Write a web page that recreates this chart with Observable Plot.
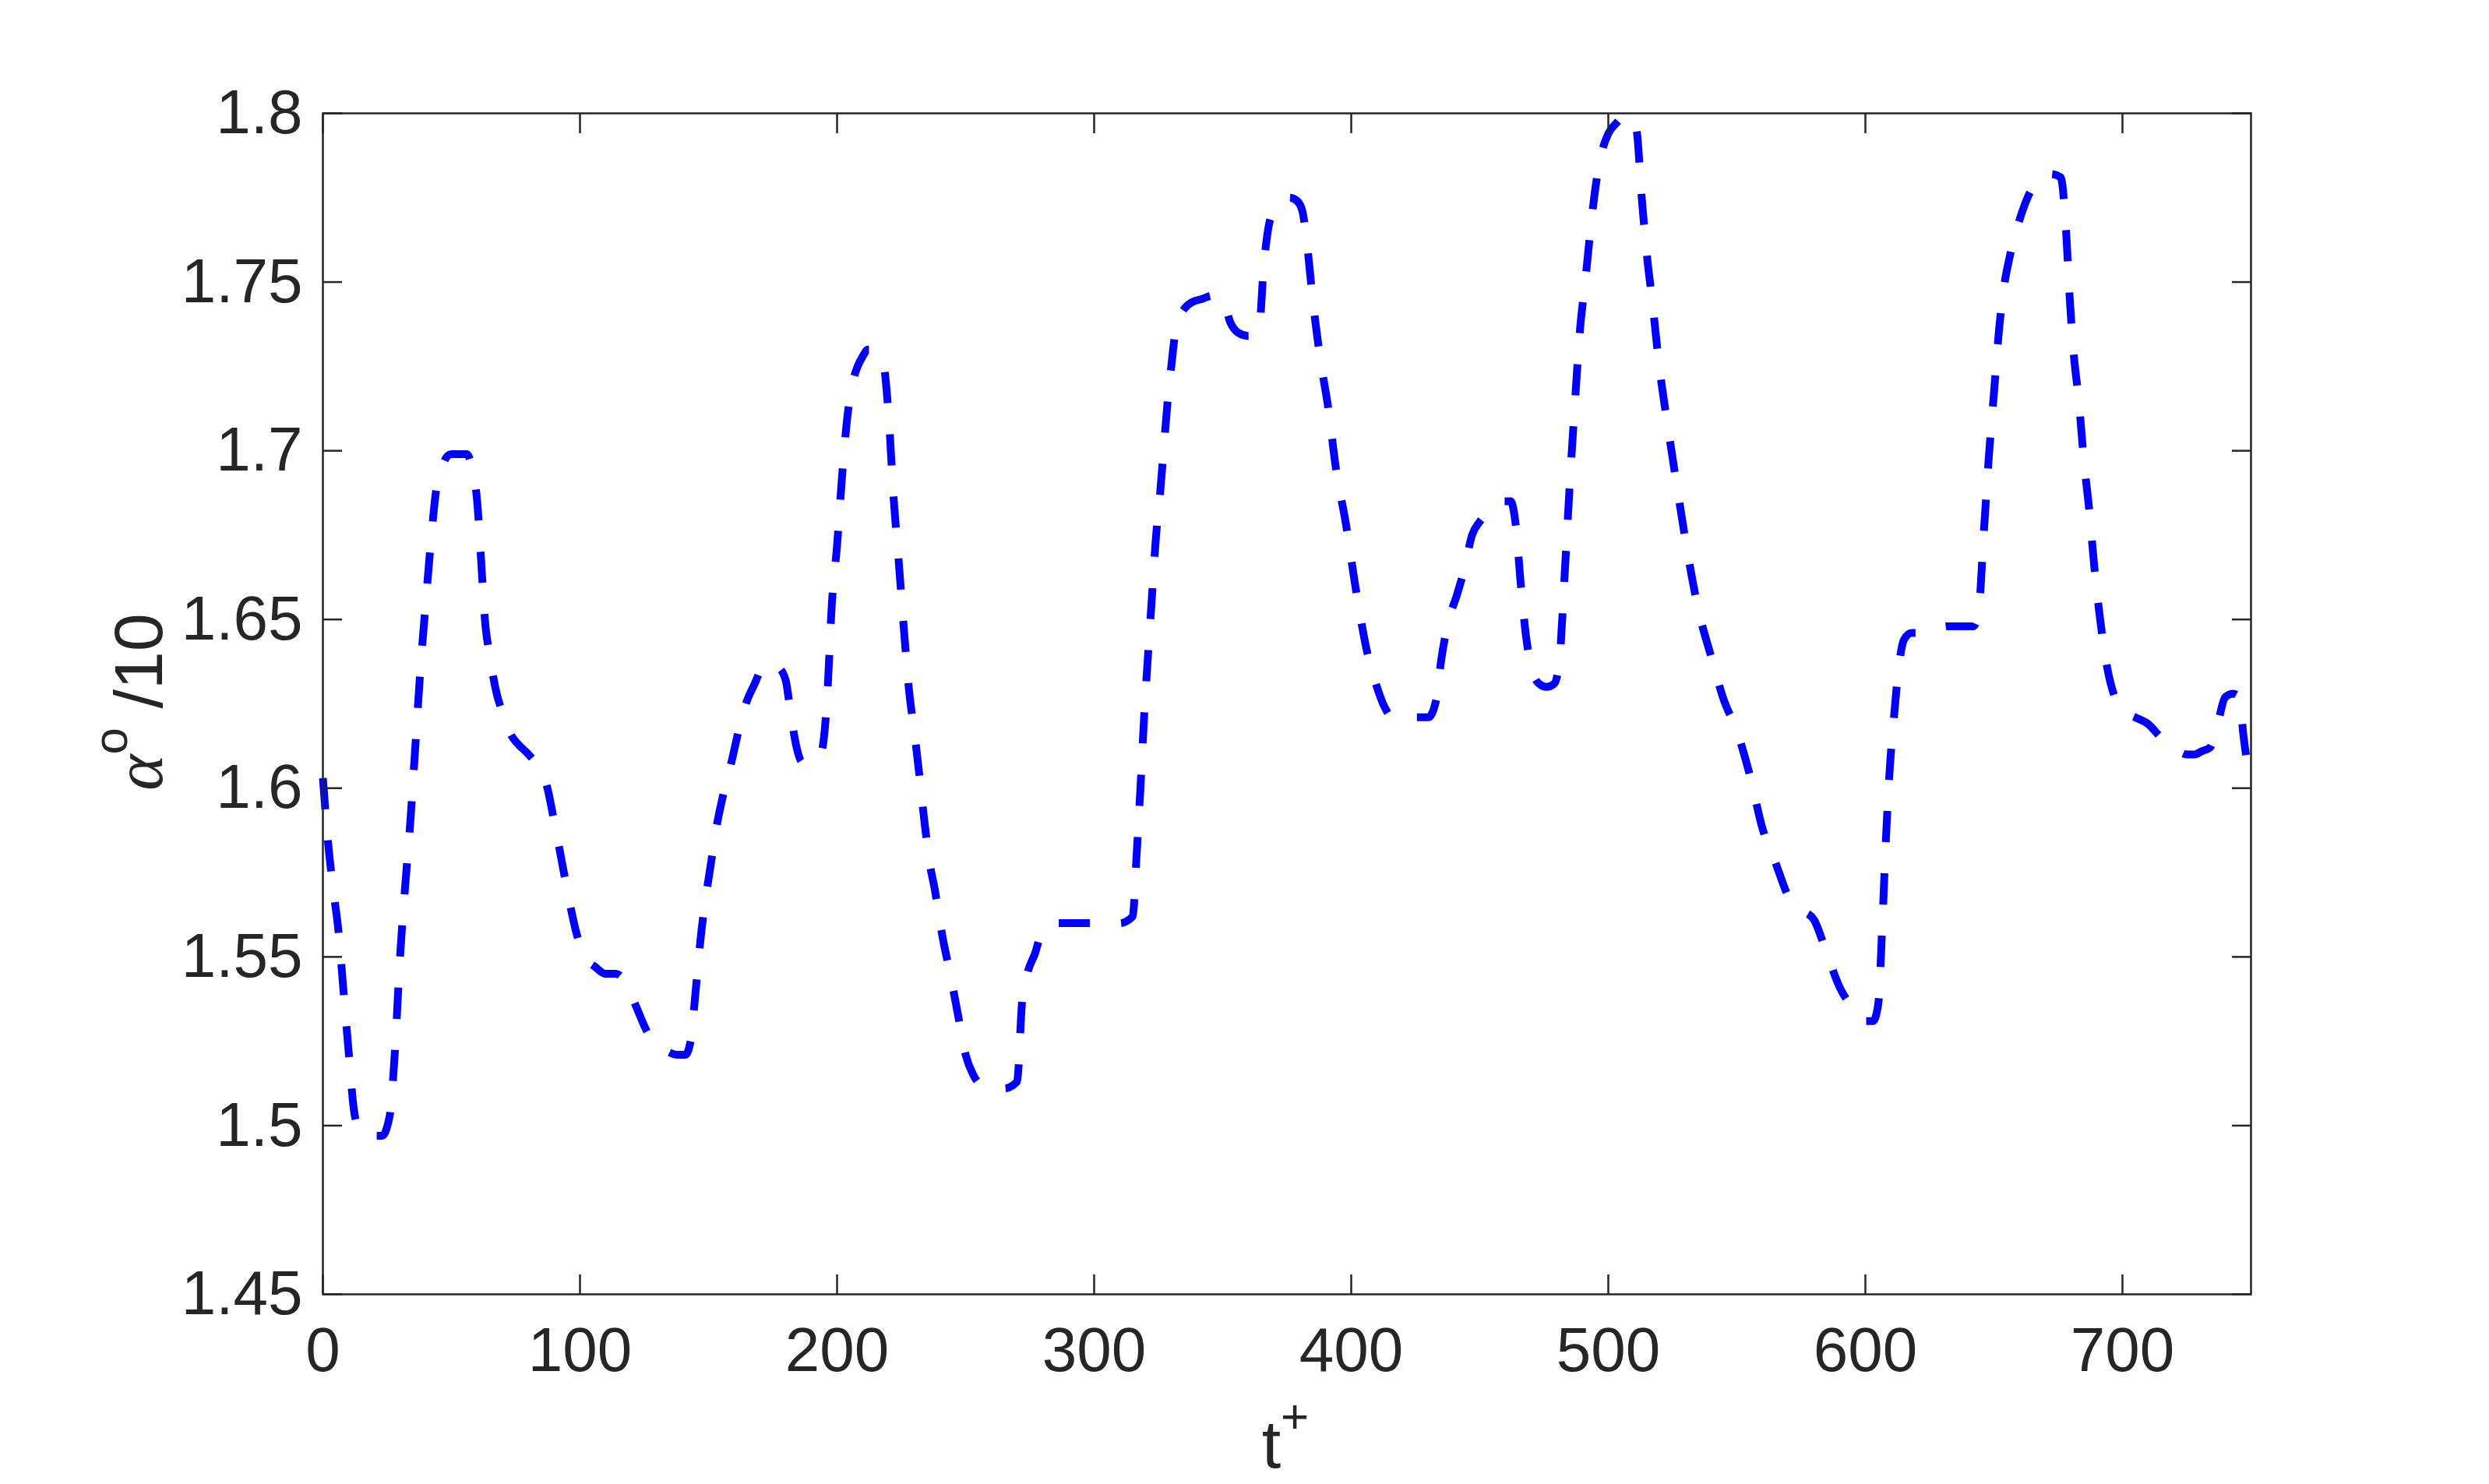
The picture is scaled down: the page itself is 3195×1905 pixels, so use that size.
<!DOCTYPE html>
<html>
<head>
<meta charset="utf-8">
<script src="https://cdn.jsdelivr.net/npm/d3@7"></script>
<script src="https://cdn.jsdelivr.net/npm/@observablehq/plot@0.6"></script>
<style>
  html, body { margin: 0; padding: 0; background: #fff; }
  #chart svg { display: block; }
</style>
</head>
<body>
<div id="chart"></div>
<script>
// t+ values
const tPlus = [0, 2, 4, 6, 8, 10, 12, 14, 17, 20, 23, 26, 28, 30, 32, 34, 36, 38, 40, 42, 44, 46, 48, 50, 53, 56, 58, 60, 61.5, 63, 65, 67, 70, 73, 76, 80, 84, 87, 90, 93, 96, 99, 102, 106, 110, 114, 118, 122, 126, 130, 134, 138, 141, 143, 145, 147, 149, 151, 153, 156, 159, 162, 165, 168, 171, 174, 177, 180, 182, 184, 186, 188, 191, 194, 196, 198, 200, 202, 204, 206, 208, 210, 212, 214, 216, 218, 220, 222, 224, 226, 228, 230, 232, 234, 236, 238, 241, 244, 247, 250, 253, 256, 260, 265, 270, 272, 274, 277, 280, 285, 290, 300, 310, 315, 316.5, 318, 319.5, 321, 322.5, 324, 325.5, 327, 328.5, 330, 332, 335, 338, 342, 346, 350, 353, 356, 360, 364, 366, 368, 370, 373, 376, 379, 381, 383, 385, 388, 391, 394, 398, 402, 406, 410, 413, 416, 420, 425, 430, 433, 435, 438, 441, 444, 447, 450, 454, 458, 462, 464, 466, 468, 470, 473, 476, 479, 481, 483, 485, 487, 489, 491, 493, 495, 497, 500, 503, 506, 509, 511, 513, 515, 517, 520, 523, 527, 531, 535, 540, 545, 550, 555, 560, 565, 570, 575, 580, 585, 590, 595, 600, 603, 605, 606.5, 608, 609.5, 611, 613, 615, 618, 622, 627, 632, 637, 642, 644, 646, 648, 650, 652, 654, 656, 659, 662, 665, 668, 672, 676, 678, 679.5, 681, 683, 685, 687, 689, 691, 694, 697, 700, 705, 710, 715, 720, 725, 728, 731, 734, 737, 740, 743, 745.5, 747, 748.5, 750];
// alpha / 10 values
const alphaOver10 = [1.603, 1.584, 1.570, 1.558, 1.540, 1.522, 1.505, 1.499, 1.497, 1.497, 1.497, 1.503, 1.522, 1.550, 1.571, 1.590, 1.613, 1.636, 1.655, 1.673, 1.688, 1.694, 1.698, 1.699, 1.699, 1.699, 1.695, 1.685, 1.668, 1.650, 1.639, 1.630, 1.622, 1.616, 1.613, 1.610, 1.606, 1.601, 1.590, 1.578, 1.566, 1.556, 1.550, 1.547, 1.545, 1.545, 1.542, 1.535, 1.528, 1.524, 1.522, 1.521, 1.521, 1.525, 1.540, 1.556, 1.568, 1.578, 1.588, 1.599, 1.608, 1.618, 1.626, 1.631, 1.636, 1.637, 1.636, 1.632, 1.622, 1.613, 1.608, 1.607, 1.608, 1.611, 1.625, 1.655, 1.672, 1.693, 1.710, 1.720, 1.725, 1.728, 1.730, 1.730, 1.729, 1.726, 1.711, 1.686, 1.667, 1.647, 1.629, 1.617, 1.604, 1.590, 1.578, 1.570, 1.556, 1.545, 1.533, 1.521, 1.515, 1.512, 1.511, 1.511, 1.513, 1.537, 1.545, 1.551, 1.558, 1.560, 1.560, 1.560, 1.560, 1.562, 1.580, 1.600, 1.622, 1.640, 1.657, 1.674, 1.686, 1.700, 1.714, 1.725, 1.737, 1.742, 1.744, 1.745, 1.746, 1.745, 1.738, 1.735, 1.734, 1.735, 1.755, 1.767, 1.771, 1.774, 1.775, 1.774, 1.771, 1.760, 1.745, 1.727, 1.713, 1.695, 1.678, 1.658, 1.641, 1.630, 1.624, 1.621, 1.621, 1.621, 1.621, 1.626, 1.638, 1.650, 1.657, 1.665, 1.675, 1.679, 1.682, 1.685, 1.685, 1.678, 1.660, 1.645, 1.636, 1.631, 1.630, 1.631, 1.638, 1.663, 1.690, 1.714, 1.736, 1.750, 1.765, 1.778, 1.787, 1.794, 1.797, 1.799, 1.799, 1.795, 1.775, 1.758, 1.745, 1.724, 1.708, 1.688, 1.669, 1.653, 1.639, 1.626, 1.617, 1.604, 1.588, 1.578, 1.568, 1.564, 1.561, 1.551, 1.541, 1.535, 1.531, 1.531, 1.536, 1.558, 1.585, 1.606, 1.620, 1.636, 1.644, 1.646, 1.646, 1.647, 1.648, 1.648, 1.648, 1.652, 1.675, 1.698, 1.717, 1.736, 1.749, 1.757, 1.766, 1.773, 1.778, 1.781, 1.782, 1.781, 1.766, 1.745, 1.729, 1.715, 1.697, 1.683, 1.666, 1.652, 1.636, 1.627, 1.623, 1.621, 1.619, 1.615, 1.612, 1.610, 1.610, 1.611, 1.612, 1.619, 1.627, 1.628, 1.627, 1.616, 1.608, 1.605];

const xTicks = [0, 100, 200, 300, 400, 500, 600, 700];
const xTickLabels = ["0", "100", "200", "300", "400", "500", "600", "700"];
const yTicks = [1.45, 1.5, 1.55, 1.6, 1.65, 1.7, 1.75, 1.8];
const yTickLabels = ["1.45", "1.5", "1.55", "1.6", "1.65", "1.7", "1.75", "1.8"];

const data = tPlus.map((t, i) => ({t, a: alphaOver10[i]}));

const W = 3195, H = 1905;
const axisColor = "#262626";
const font = "'Liberation Sans', Arial, Helvetica, sans-serif";

const chart = Plot.plot({
  width: W,
  height: H,
  marginLeft: 414,
  marginRight: 306,
  marginTop: 145,
  marginBottom: 244,
  style: {fontFamily: font, fontSize: "80px", color: axisColor, background: "#fff"},
  x: {domain: [0, 750], label: null},
  y: {domain: [1.45, 1.8], label: null},
  marks: [
    Plot.line(data, {x: "t", y: "a", stroke: "#0000ff", strokeWidth: 10,
      strokeDasharray: "40,40", curve: "monotone-x", strokeLinecap: "butt"}),
    Plot.frame({stroke: axisColor, strokeWidth: 2.5}),
    // labels
    Plot.axisX({ticks: xTicks, tickFormat: (d) => xTickLabels[xTicks.indexOf(d)],
      tickSize: 0, tickPadding: 42, label: null, fontSize: 80, fill: axisColor}),
    Plot.axisY({ticks: yTicks, tickFormat: (d) => yTickLabels[yTicks.indexOf(d)],
      tickSize: 0, tickPadding: 26, label: null, fontSize: 80, fill: axisColor}),
    // inward ticks on all four sides
    Plot.axisX({anchor: "bottom", ticks: xTicks, tickSize: -25, text: null, label: null, stroke: axisColor, strokeWidth: 2.5}),
    Plot.axisX({anchor: "top", ticks: xTicks, tickSize: -25, text: null, label: null, stroke: axisColor, strokeWidth: 2.5}),
    Plot.axisY({anchor: "left", ticks: yTicks, tickSize: -25, text: null, label: null, stroke: axisColor, strokeWidth: 2.5}),
    Plot.axisY({anchor: "right", ticks: yTicks, tickSize: -25, text: null, label: null, stroke: axisColor, strokeWidth: 2.5})
  ]
});

document.getElementById("chart").appendChild(chart);

// Axis titles with superscripts
const svg = d3.select(chart);
const yl = svg.append("text")
  .attr("transform", "translate(208,901) rotate(-90)")
  .attr("text-anchor", "middle")
  .attr("fill", axisColor)
  .attr("font-family", font)
  .attr("font-size", 88);
yl.append("tspan").attr("font-family", "'Liberation Serif', 'DejaVu Serif', serif").attr("font-style", "italic").text("α");
yl.append("tspan").attr("font-size", 62).attr("dy", -45).text("o");
yl.append("tspan").attr("dy", 45).text(" /10");

const xl = svg.append("text")
  .attr("x", 1650).attr("y", 1884)
  .attr("text-anchor", "middle")
  .attr("fill", axisColor)
  .attr("font-family", font)
  .attr("font-size", 88);
xl.append("tspan").text("t");
xl.append("tspan").attr("font-size", 62).attr("dy", -45).text("+");
</script>
</body>
</html>
